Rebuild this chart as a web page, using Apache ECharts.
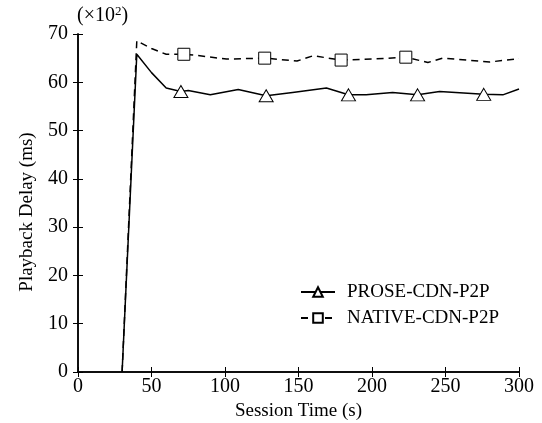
<!DOCTYPE html>
<html>
<head>
<meta charset="utf-8">
<script src="https://cdn.jsdelivr.net/npm/echarts@6/dist/echarts.min.js"></script>
<style>
  html, body { margin: 0; padding: 0; background: #fff; }
  #chart { width: 542px; height: 423px; }
</style>
</head>
<body>
<div id="chart"></div>
<script>
// session time (s) / delay (x10^2 ms)
var proseX = [30, 40, 50, 60, 70, 75, 90, 109, 128, 146, 169, 184, 196, 214, 231, 246, 276, 289, 300];
var proseY = [0, 65.8, 62.0, 58.8, 58.1, 58.3, 57.4, 58.5, 57.2, 57.9, 58.8, 57.4, 57.4, 57.9, 57.4, 58.1, 57.5, 57.4, 58.6];
var proseMarks = [70, 128, 184, 231, 276];

var nativeX = [30, 40, 50, 60, 72, 80, 101, 127, 149, 160, 179, 200, 223, 238, 248, 280, 300];
var nativeY = [0, 68.6, 67.0, 65.8, 65.8, 65.6, 64.8, 65.0, 64.4, 65.5, 64.6, 64.8, 65.2, 64.1, 65.0, 64.2, 64.9];
var nativeMarks = [72, 127, 179, 223];

function build(xs, ys, marks) {
  return xs.map(function (x, i) {
    var item = { value: [x, ys[i]] };
    if (marks.indexOf(x) < 0) item.symbol = "none";
    return item;
  });
}

var font = "Liberation Serif";
var myChart = echarts.init(document.getElementById("chart"));

var option = {
  animation: false,
  textStyle: { fontFamily: font, color: "#000" },
  graphic: [
    {
      type: "text",
      left: 77,
      top: 5,
      style: {
        text: "(×10{sup|2})",
        font: "20px " + font,
        fill: "#000",
        rich: {
          sup: { fontSize: 13, verticalAlign: "top", padding: [0, 0, 9, 0], fontFamily: font }
        }
      }
    }
  ],
  legend: {
    orient: "vertical",
    left: 295,
    top: 277,
    itemWidth: 34,
    itemHeight: 12,
    itemGap: 6,
    textStyle: { fontFamily: font, fontSize: 19, color: "#000", lineHeight: 20, padding: [0, 0, 0, 7] },
    data: ["PROSE-CDN-P2P", "NATIVE-CDN-P2P"]
  },
  grid: {
    left: 78,
    right: 23,
    top: 34,
    bottom: 51,
    containLabel: false,
    outerBoundsMode: "none"
  },
  xAxis: [
    {
      type: "value",
      min: 0,
      max: 300,
      interval: 50,
      name: "Session Time (s)",
      nameLocation: "middle",
      nameGap: 30,
      nameTextStyle: { fontFamily: font, fontSize: 19, color: "#000" },
      axisLine: { show: true, lineStyle: { color: "#000", width: 1.5 } },
      axisTick: { show: true, inside: true, length: 5, lineStyle: { color: "#000" } },
      axisLabel: { fontFamily: font, fontSize: 20, color: "#000", margin: 5 },
      splitLine: { show: false }
    },
    {
      type: "value",
      position: "top",
      min: 0,
      max: 300,
      interval: 50,
      axisLine: { show: true, lineStyle: { color: "#000", width: 1.5 } },
      axisTick: { show: true, inside: true, length: 5, lineStyle: { color: "#000" } },
      axisLabel: { show: false },
      splitLine: { show: false }
    }
  ],
  yAxis: [
    {
      type: "value",
      min: 0,
      max: 70,
      interval: 10,
      name: "Playback Delay (ms)",
      nameLocation: "middle",
      nameGap: 41,
      nameTextStyle: { fontFamily: font, fontSize: 19, color: "#000", padding: [0, 18, 0, 0] },
      axisLine: { show: true, lineStyle: { color: "#000", width: 1.5 } },
      axisTick: { show: true, inside: true, length: 5, lineStyle: { color: "#000" } },
      axisLabel: { fontFamily: font, fontSize: 20, color: "#000", margin: 10 },
      splitLine: { show: false }
    },
    {
      type: "value",
      position: "right",
      min: 0,
      max: 70,
      interval: 10,
      axisLine: { show: true, lineStyle: { color: "#000", width: 1.5 } },
      axisTick: { show: true, inside: true, length: 5, lineStyle: { color: "#000" } },
      axisLabel: { show: false },
      splitLine: { show: false }
    }
  ],
  series: [
    {
      name: "PROSE-CDN-P2P",
      type: "line",
      xAxisIndex: 0,
      yAxisIndex: 0,
      symbol: "triangle",
      symbolSize: [14, 12],
      showAllSymbol: true,
      color: "#000",
      itemStyle: { color: "#fff", borderColor: "#000", borderWidth: 1 },
      lineStyle: { color: "#000", width: 1.5, type: "solid" },
      data: build(proseX, proseY, proseMarks),
      z: 3
    },
    {
      name: "NATIVE-CDN-P2P",
      type: "line",
      xAxisIndex: 0,
      yAxisIndex: 0,
      symbol: "rect",
      symbolSize: 12,
      showAllSymbol: true,
      color: "#000",
      itemStyle: { color: "#fff", borderColor: "#000", borderWidth: 1 },
      lineStyle: { color: "#000", width: 1.5, type: [7, 5] },
      data: build(nativeX, nativeY, nativeMarks),
      z: 2
    }
  ]
};

myChart.setOption(option);
</script>
</body>
</html>
